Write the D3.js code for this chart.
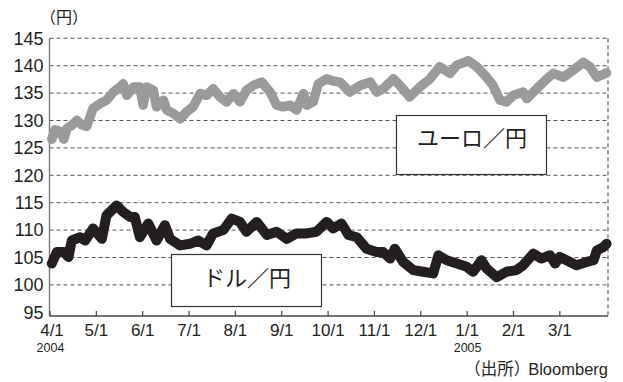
<!DOCTYPE html>
<html>
<head>
<meta charset="utf-8">
<script src="https://cdn.jsdelivr.net/npm/d3@7"></script>
<style>
  body { margin: 0; background: #fff; }
  svg { display: block; }
  .num { font-family: "Liberation Sans", Arial, sans-serif; fill: #231f20; }
  .jp { font-family: "Noto Sans CJK JP", sans-serif; fill: #231f20; }
</style>
</head>
<body>
<div id="chart"></div>
<script>
// month labels (one tick per month, 4/1/2004 .. 3/1/2005)
const monthLabels = ["4/1", "5/1", "6/1", "7/1", "8/1", "9/1", "10/1", "11/1", "12/1", "1/1", "2/1", "3/1"];
const yearMonths = [0, 9];
const yearLabels = ["2004", "2005"];
const yTicks = [95, 100, 105, 110, 115, 120, 125, 130, 135, 140, 145];

// position in months since 4/1/2004, value in yen
const euroMonth = [0.05, 0.12, 0.23, 0.31, 0.38, 0.49, 0.59, 0.70, 0.80, 0.94, 1.09, 1.23, 1.38, 1.52, 1.59, 1.67, 1.81, 1.95, 2.02, 2.10,
  2.24, 2.31, 2.46, 2.53, 2.67, 2.82, 2.96, 3.10, 3.25, 3.39, 3.53, 3.68, 3.82, 3.97, 4.11, 4.25, 4.40, 4.58, 4.76, 4.90,
  5.04, 5.19, 5.33, 5.48, 5.55, 5.69, 5.80, 5.98, 6.12, 6.27, 6.48, 6.70, 6.92, 7.06, 7.20, 7.42, 7.56, 7.77, 7.99, 8.21,
  8.42, 8.64, 8.79, 9.04, 9.22, 9.43, 9.57, 9.72, 9.86, 10.01, 10.22, 10.30, 10.51, 10.73, 10.87, 11.09, 11.30, 11.52, 11.66, 11.81, 12.02];
const euroYen = [126.6, 128.3, 128.0, 126.6, 128.6, 129.2, 130.0, 129.2, 128.9, 132.2, 133.1, 133.7, 135.2, 136.1, 136.7, 134.6, 136.1, 136.1, 132.8, 136.1,
  135.5, 132.5, 133.7, 131.9, 131.3, 130.3, 131.6, 132.5, 134.9, 134.6, 135.8, 134.3, 133.4, 134.9, 133.4, 135.5, 136.4, 137.0, 135.2, 132.8,
  132.5, 132.8, 131.9, 134.9, 132.8, 133.4, 136.7, 137.6, 137.2, 137.0, 135.2, 136.4, 137.0, 135.2, 135.8, 137.6, 136.4, 134.3, 136.1, 137.6,
  139.8, 138.6, 140.1, 140.9, 139.8, 137.9, 136.4, 133.7, 133.4, 134.6, 135.2, 134.0, 135.8, 137.6, 138.6, 137.9, 139.2, 140.6, 139.8, 137.9, 138.7];

const dollarMonth = [0.05, 0.16, 0.30, 0.41, 0.48, 0.66, 0.77, 0.94, 1.13, 1.23, 1.45, 1.59, 1.74, 1.84, 1.95, 2.13, 2.31, 2.49, 2.60, 2.82,
  3.03, 3.21, 3.39, 3.53, 3.75, 3.93, 4.11, 4.25, 4.47, 4.69, 4.90, 5.12, 5.33, 5.55, 5.76, 5.98, 6.12, 6.30, 6.45, 6.63,
  6.84, 7.06, 7.20, 7.35, 7.45, 7.63, 7.85, 8.06, 8.28, 8.39, 8.57, 8.79, 9.00, 9.14, 9.32, 9.43, 9.65, 9.86, 10.08, 10.22,
  10.44, 10.61, 10.80, 10.91, 11.01, 11.23, 11.37, 11.59, 11.74, 11.81, 11.95, 12.02];
const dollarYen = [103.9, 106.0, 106.0, 105.1, 108.1, 108.7, 108.1, 110.3, 108.4, 112.7, 114.5, 113.3, 112.4, 112.4, 108.7, 111.2, 108.1, 110.9, 108.4, 107.2,
  107.5, 108.1, 107.2, 109.4, 110.0, 112.1, 111.5, 109.7, 111.5, 109.1, 109.7, 108.4, 109.4, 109.4, 109.7, 111.5, 110.3, 111.2, 109.1, 108.7,
  106.6, 106.0, 106.0, 104.8, 106.6, 104.2, 102.7, 102.4, 102.1, 105.4, 104.5, 103.9, 103.3, 102.4, 104.5, 103.0, 101.4, 102.4, 102.7, 103.6,
  105.7, 104.8, 105.4, 103.9, 105.1, 104.2, 103.6, 104.2, 104.5, 106.3, 106.9, 107.5];

const width = 623;
const height = 382;
const plotLeft = 49.5, plotRight = 608, plotTop = 38.3, plotBottom = 316;

const x = d3.scaleLinear().domain([0, 12.05]).range([plotLeft, plotRight]);
const y = d3.scaleLinear().domain([95, 145]).range([312.3, plotTop]);

const svg = d3.select("#chart").append("svg")
  .attr("width", width)
  .attr("height", height);

// dashed grid
svg.append("g")
  .selectAll("line")
  .data(yTicks.filter(v => v > 95))
  .join("line")
  .attr("x1", plotLeft)
  .attr("x2", plotRight)
  .attr("y1", d => y(d))
  .attr("y2", d => y(d))
  .attr("stroke", "#555")
  .attr("stroke-width", 1)
  .attr("stroke-dasharray", "4,3");

// right border (dashed)
svg.append("line")
  .attr("x1", plotRight).attr("x2", plotRight)
  .attr("y1", plotTop).attr("y2", plotBottom)
  .attr("stroke", "#888")
  .attr("stroke-width", 1.6)
  .attr("stroke-dasharray", "4,3");

// y axis labels
svg.append("g")
  .attr("transform", `translate(${plotLeft},0)`)
  .call(d3.axisLeft(y).tickValues(yTicks).tickSize(0).tickPadding(6))
  .call(g => g.select(".domain").remove())
  .call(g => g.selectAll("text")
    .attr("class", "num")
    .style("font-size", "18px"));

svg.append("line")
  .attr("x1", plotLeft).attr("x2", plotLeft)
  .attr("y1", plotTop).attr("y2", plotBottom)
  .attr("stroke", "#777")
  .attr("stroke-width", 1.4);

// x axis
svg.append("g")
  .attr("transform", `translate(0,${plotBottom})`)
  .call(d3.axisBottom(x)
    .tickValues(d3.range(monthLabels.length))
    .tickSize(-5)
    .tickPadding(8)
    .tickFormat(i => monthLabels[i]))
  .call(g => g.select(".domain")
    .attr("d", `M${plotLeft},0H${plotRight}`)
    .attr("stroke", "#444")
    .attr("stroke-width", 1.3))
  .call(g => g.selectAll(".tick line").attr("stroke", "#444").attr("stroke-width", 1.2))
  .call(g => g.selectAll("text")
    .attr("class", "num")
    .attr("dx", (d, i) => i === 0 ? 2 : 0)
    .style("font-size", "17px"));

svg.append("g")
  .selectAll("text")
  .data(yearMonths)
  .join("text")
  .attr("class", "num")
  .attr("x", d => x(d) + 1)
  .attr("y", 352)
  .attr("text-anchor", "middle")
  .style("font-size", "12.5px")
  .text((d, i) => yearLabels[i]);

// series
const line = d3.line()
  .x(d => x(d[0]))
  .y(d => y(d[1]));

svg.append("path")
  .datum(d3.zip(euroMonth, euroYen))
  .attr("d", line)
  .attr("fill", "none")
  .attr("stroke", "#9a9a9a")
  .attr("stroke-width", 9.5)
  .attr("stroke-linejoin", "round")
  .attr("stroke-linecap", "round");

svg.append("path")
  .datum(d3.zip(dollarMonth, dollarYen))
  .attr("d", line)
  .attr("fill", "none")
  .attr("stroke", "#231f20")
  .attr("stroke-width", 10)
  .attr("stroke-linejoin", "round")
  .attr("stroke-linecap", "round");

// legend boxes
const boxes = [
  { label: "ユーロ／円", x0: 396, y0: 115, w: 150, h: 59, ty: 146 },
  { label: "ドル／円", x0: 171, y0: 254, w: 150, h: 52, ty: 286 }
];
boxes.forEach(b => {
  svg.append("rect")
    .attr("x", b.x0 + 0.5).attr("y", b.y0 + 0.5)
    .attr("width", b.w).attr("height", b.h)
    .attr("fill", "#fff")
    .attr("stroke", "#333")
    .attr("stroke-width", 1.2);
  svg.append("text")
    .attr("class", "jp")
    .attr("x", b.x0 + b.w / 2 + 1)
    .attr("y", b.ty)
    .attr("text-anchor", "middle")
    .style("font-size", "22px")
    .text(b.label);
});

// unit and source
svg.append("text")
  .attr("class", "jp")
  .attr("x", 40)
  .attr("y", 23)
  .style("font-size", "16px")
  .text("（円）");

const src = svg.append("text")
  .attr("x", 608)
  .attr("y", 375)
  .attr("text-anchor", "end")
  .style("font-size", "16.5px");
src.append("tspan").attr("class", "jp").text("（出所）");
src.append("tspan").attr("class", "num").attr("dx", -2).text("Bloomberg");
</script>
</body>
</html>
